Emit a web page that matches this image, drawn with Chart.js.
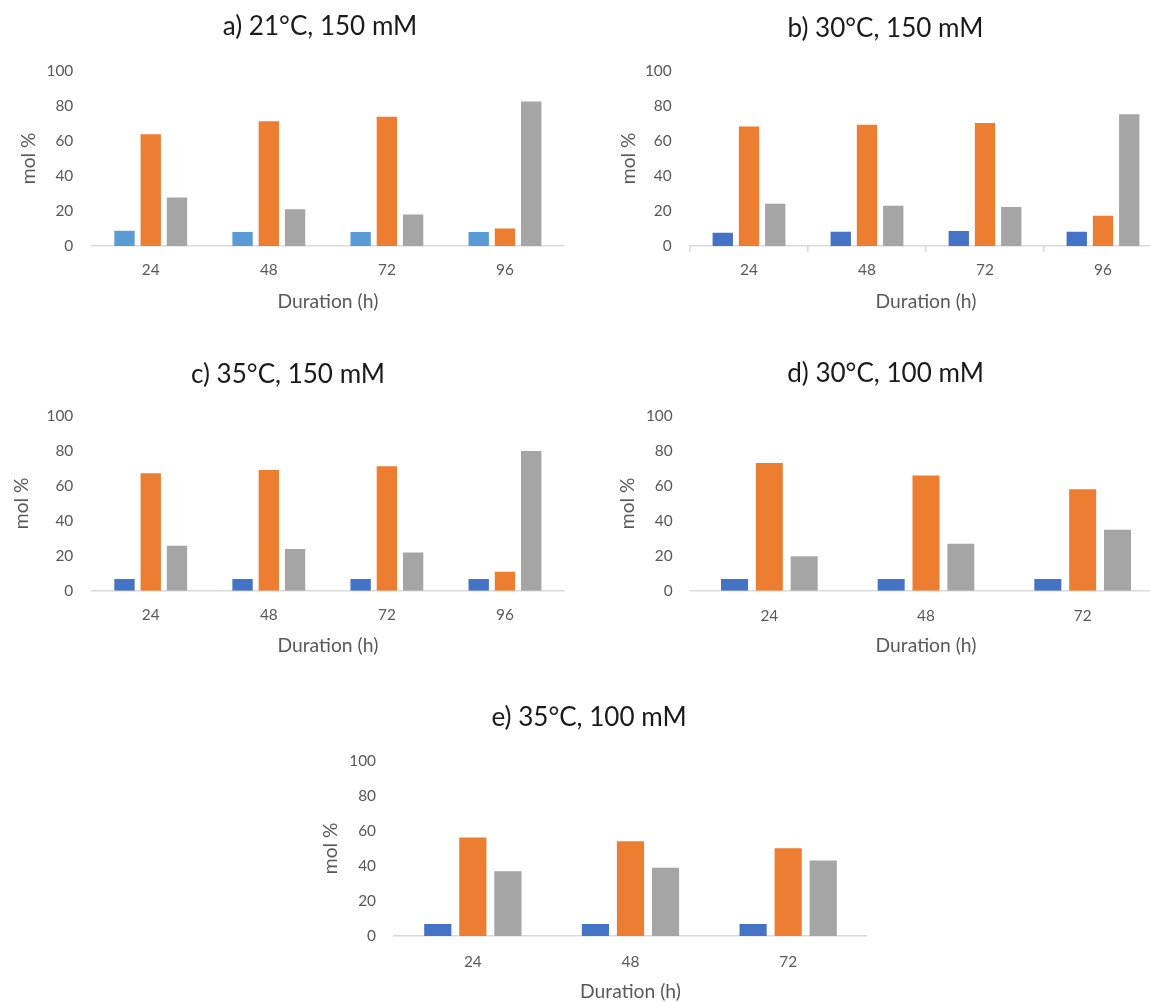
<!DOCTYPE html>
<html><head><meta charset="utf-8">
<script src="https://cdn.jsdelivr.net/npm/chart.js@4.4.1/dist/chart.umd.min.js"></script>
<style>
html,body{margin:0;padding:0;background:#fff;overflow:hidden;width:1150px;height:1002px;position:relative}
canvas{position:absolute}
</style></head><body>
<canvas id="pa"></canvas><canvas id="pb"></canvas><canvas id="pc"></canvas><canvas id="pd"></canvas><canvas id="pe"></canvas>
<script>
// ---------- data ----------
const durations4 = ['24', '48', '72', '96'];
const durations3 = ['24', '48', '72'];
const yTickValues = [0, 20, 40, 60, 80, 100];
const seriesNames = ['Series 1', 'Series 2', 'Series 3'];
const panelTitles = ['a) 21°C, 150 mM', 'b) 30°C, 150 mM', 'c) 35°C, 150 mM', 'd) 30°C, 100 mM', 'e) 35°C, 100 mM'];
const xAxisTitle = 'Duration (h)';
const yAxisTitle = 'mol %';

const a_s1 = [8.7, 8.0, 8.0, 8.0];
const a_s2 = [63.8, 71.2, 73.8, 10.0];
const a_s3 = [27.7, 20.9, 18.0, 82.4];

const b_s1 = [7.6, 8.2, 8.5, 8.2];
const b_s2 = [68.1, 69.1, 70.2, 17.3];
const b_s3 = [24.1, 23.0, 22.2, 75.1];

const c_s1 = [6.7, 6.7, 6.7, 6.7];
const c_s2 = [67.2, 69.1, 71.2, 10.8];
const c_s3 = [25.8, 23.9, 21.9, 80.0];

const d_s1 = [6.7, 6.7, 6.7];
const d_s2 = [73.1, 66.0, 58.0];
const d_s3 = [19.7, 26.9, 34.9];

const e_s1 = [6.8, 6.8, 6.8];
const e_s2 = [56.2, 54.1, 50.1];
const e_s3 = [37.0, 38.9, 43.1];

// ---------- styling / layout ----------
const FAM = 'Lato';
const mctx = document.createElement('canvas').getContext('2d');
function fitSize(text, target) { mctx.font = '100px ' + FAM; return 100 * target / mctx.measureText(text).width; }
const sTitle = fitSize('b) 30°C, 150 mM', 196);
const sTick = fitSize('100', 26.8);
const sAxis = fitSize('Duration (h)', 101);

Chart.defaults.font.family = FAM;
Chart.defaults.animation = false;

const BLUE_LIGHT = '#5B9BD5', BLUE = '#4472C4', ORANGE = '#ED7D31', GRAY = '#A5A5A5';
const AXIS_LINE = '#D9D9D9', TEXT = '#595959', TITLE = '#1a1a1a';

const layouts = {
  a: {PL: 91.7, PR: 564, y100: 70.7, y0: 246, TC: 320, TY: 26.7, MX: 29, LY: 270, DY: 301.7, LR: 73.3, ticks: false},
  b: {PL: 690, PR: 1162, y100: 70.7, y0: 246, TC: 885.3, TY: 28.3, MX: 628.3, LY: 270, DY: 301.7, LR: 671.7, ticks: true},
  c: {PL: 91.7, PR: 564, y100: 416, y0: 590.7, TC: 288, TY: 375, MX: 21.7, LY: 615, DY: 646, LR: 73.3, ticks: false},
  d: {PL: 691, PR: 1161, y100: 416, y0: 590.7, TC: 885.5, TY: 373.3, MX: 627.8, LY: 616, DY: 646, LR: 672.7, ticks: false},
  e: {PL: 394, PR: 867, y100: 760.7, y0: 936, TC: 589, TY: 717.3, MX: 330.7, LY: 961.7, DY: 991.7, LR: 376, ticks: false}
};

function makePanel(id, L, cats, s1, s2, s3, c1, title) {
  const lhT = sTitle * 1.2, lhA = sAxis * 1.2, lhK = sTick * 1.2;
  const cl = Math.floor(Math.min(L.MX - lhA / 2 - 1, 2 * L.TC - L.PR));
  const cr = Math.ceil(2 * L.TC - cl);
  const ct = Math.round(L.TY - lhT / 2);
  const W = cr - cl;
  const S = cr - L.PR;
  const Wy = L.PL - cl;
  const padTop = L.MX - cl - lhA / 2;
  const B = L.y100 - ct - lhT;
  const Hx = L.DY - L.y0 + lhA / 2;
  const H = Math.ceil(L.y0 + Hx - ct);
  const pb = H - (L.y0 + Hx - ct);
  const tl = L.ticks ? 6 : 0;
  const xPad = L.LY - L.y0 - lhK / 2 - tl;
  const yPad = L.PL - L.LR;

  const cv = document.getElementById(id);
  cv.width = W; cv.height = H;
  cv.style.left = cl + 'px'; cv.style.top = ct + 'px';
  cv.style.width = W + 'px'; cv.style.height = H + 'px';

  const colors = [c1, ORANGE, GRAY];
  const series = [s1, s2, s3];
  new Chart(cv, {
    type: 'bar',
    data: {
      labels: cats,
      datasets: series.map((d, i) => ({
        label: seriesNames[i], data: d, backgroundColor: colors[i], borderWidth: 0,
        categoryPercentage: 0.667, barPercentage: 0.775, xAxisID: 'x', yAxisID: 'y'
      }))
    },
    options: {
      responsive: false, devicePixelRatio: 1, animation: false,
      layout: {padding: {left: 0, right: 0, top: 0, bottom: pb}},
      plugins: {
        legend: {display: false}, tooltip: {enabled: false},
        title: {display: true, text: title, color: TITLE, font: {size: sTitle, weight: 'normal'}, padding: {top: 0, bottom: B}}
      },
      scales: {
        x: {
          type: 'category', offset: true,
          grid: {display: L.ticks, drawOnChartArea: false, drawTicks: L.ticks, tickLength: tl, color: AXIS_LINE, lineWidth: 1.5, offset: true},
          border: {display: true, color: AXIS_LINE, width: 1.5},
          ticks: {color: TEXT, font: {size: sTick}, padding: xPad, maxRotation: 0, autoSkip: false},
          title: {display: true, text: xAxisTitle, color: TEXT, font: {size: sAxis}, padding: {top: 0, bottom: 0}},
          afterFit: s => { s.height = Hx; }
        },
        y: {
          type: 'linear', position: 'left', min: 0, max: 100,
          afterBuildTicks: s => { s.ticks = yTickValues.map(v => ({value: v})); },
          grid: {display: false, drawTicks: false, tickLength: 0},
          border: {display: false},
          ticks: {color: TEXT, font: {size: sTick}, padding: yPad},
          title: {display: true, text: yAxisTitle, color: TEXT, font: {size: sAxis}, padding: {top: padTop, bottom: 0}},
          afterFit: s => { s.width = Wy; }
        },
        sp: {
          type: 'linear', position: 'right', display: S > 0.01,
          grid: {display: false, drawTicks: false, tickLength: 0}, border: {display: false},
          ticks: {display: false}, title: {display: false},
          afterFit: s => { s.width = S; }
        }
      }
    }
  });
}

makePanel('pa', layouts.a, durations4, a_s1, a_s2, a_s3, BLUE_LIGHT, panelTitles[0]);
makePanel('pb', layouts.b, durations4, b_s1, b_s2, b_s3, BLUE, panelTitles[1]);
makePanel('pc', layouts.c, durations4, c_s1, c_s2, c_s3, BLUE, panelTitles[2]);
makePanel('pd', layouts.d, durations3, d_s1, d_s2, d_s3, BLUE, panelTitles[3]);
makePanel('pe', layouts.e, durations3, e_s1, e_s2, e_s3, BLUE, panelTitles[4]);
</script>
</body></html>
